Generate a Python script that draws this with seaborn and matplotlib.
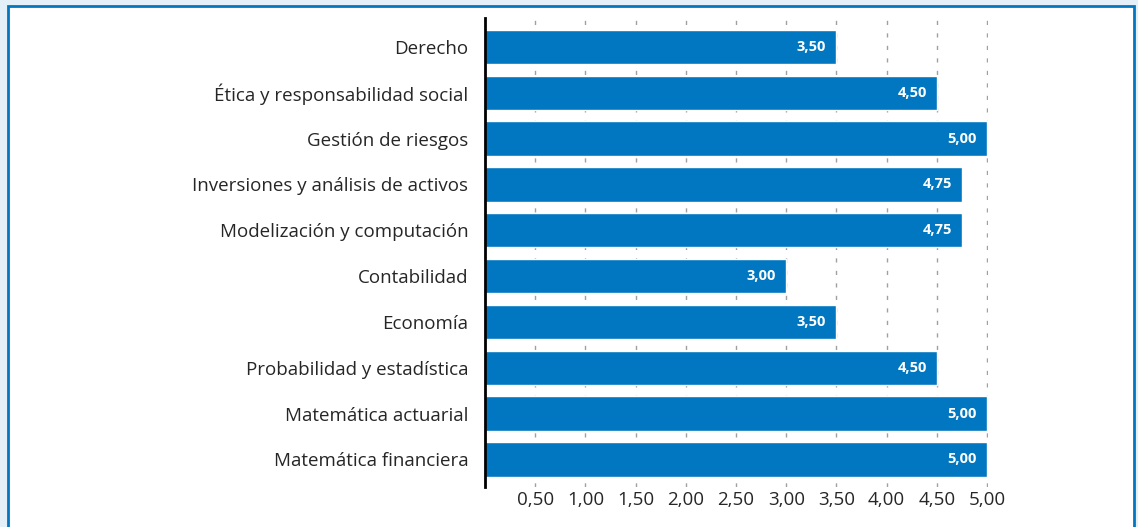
import pandas as pd
import numpy as np
import matplotlib.pyplot as plt
import seaborn as sns
from matplotlib.patches import Rectangle

materias = ["Derecho", "Ética y responsabilidad social", "Gestión de riesgos",
            "Inversiones y análisis de activos", "Modelización y computación",
            "Contabilidad", "Economía", "Probabilidad y estadística",
            "Matemática actuarial", "Matemática financiera"]
puntaje = [3.50, 4.50, 5.00, 4.75, 4.75, 3.00, 3.50, 4.50, 5.00, 5.00]
ticks = [0.5, 1.0, 1.5, 2.0, 2.5, 3.0, 3.5, 4.0, 4.5, 5.0]

azul = "#0077C0"

df = pd.DataFrame({"materia": materias, "puntaje": puntaje})

sns.set_style("white")
plt.rcParams['font.family'] = ['Open Sans', 'DejaVu Sans']

fig = plt.figure(figsize=(11.38, 5.27), dpi=100)
ax = fig.add_axes([485 / 1138, 40 / 527, 503 / 1138, 469 / 527])

sns.barplot(data=df, x="puntaje", y="materia", color=azul, saturation=1,
            width=0.75, ax=ax)

for i, v in enumerate(puntaje):
    ax.text(v - 0.1, i, f"{v:.2f}".replace(".", ","), color="white",
            fontsize=10.5, fontweight="bold", ha="right", va="center")

ax.set_xlim(0, 5.01)
ax.set_ylim(9.6, -0.63)
ax.set_xticks(ticks)
ax.set_xticklabels([f"{t:.2f}".replace(".", ",") for t in ticks], fontsize=13.5)
ax.tick_params(axis="y", labelsize=13.5, length=0, pad=12)
ax.tick_params(axis="x", length=0, pad=3)
ax.set_xlabel("")
ax.set_ylabel("")
ax.grid(axis="x", color="#a0a0a0", linestyle=(0, (3, 6)), linewidth=1)
ax.set_axisbelow(True)
for s in ["top", "right", "bottom"]:
    ax.spines[s].set_visible(False)
ax.spines["left"].set_color("black")
ax.spines["left"].set_linewidth(2)
ax.spines["left"].set_zorder(5)

# marco
fig.patch.set_facecolor("#E3F0F8")
fig.patches.append(Rectangle((8 / 1138, -0.05), 1126 / 1138, 0.05 + 521 / 527,
                             transform=fig.transFigure, facecolor="white",
                             edgecolor=azul, linewidth=2, zorder=-1))

fig.savefig("out.png", dpi=100, facecolor=fig.get_facecolor())
